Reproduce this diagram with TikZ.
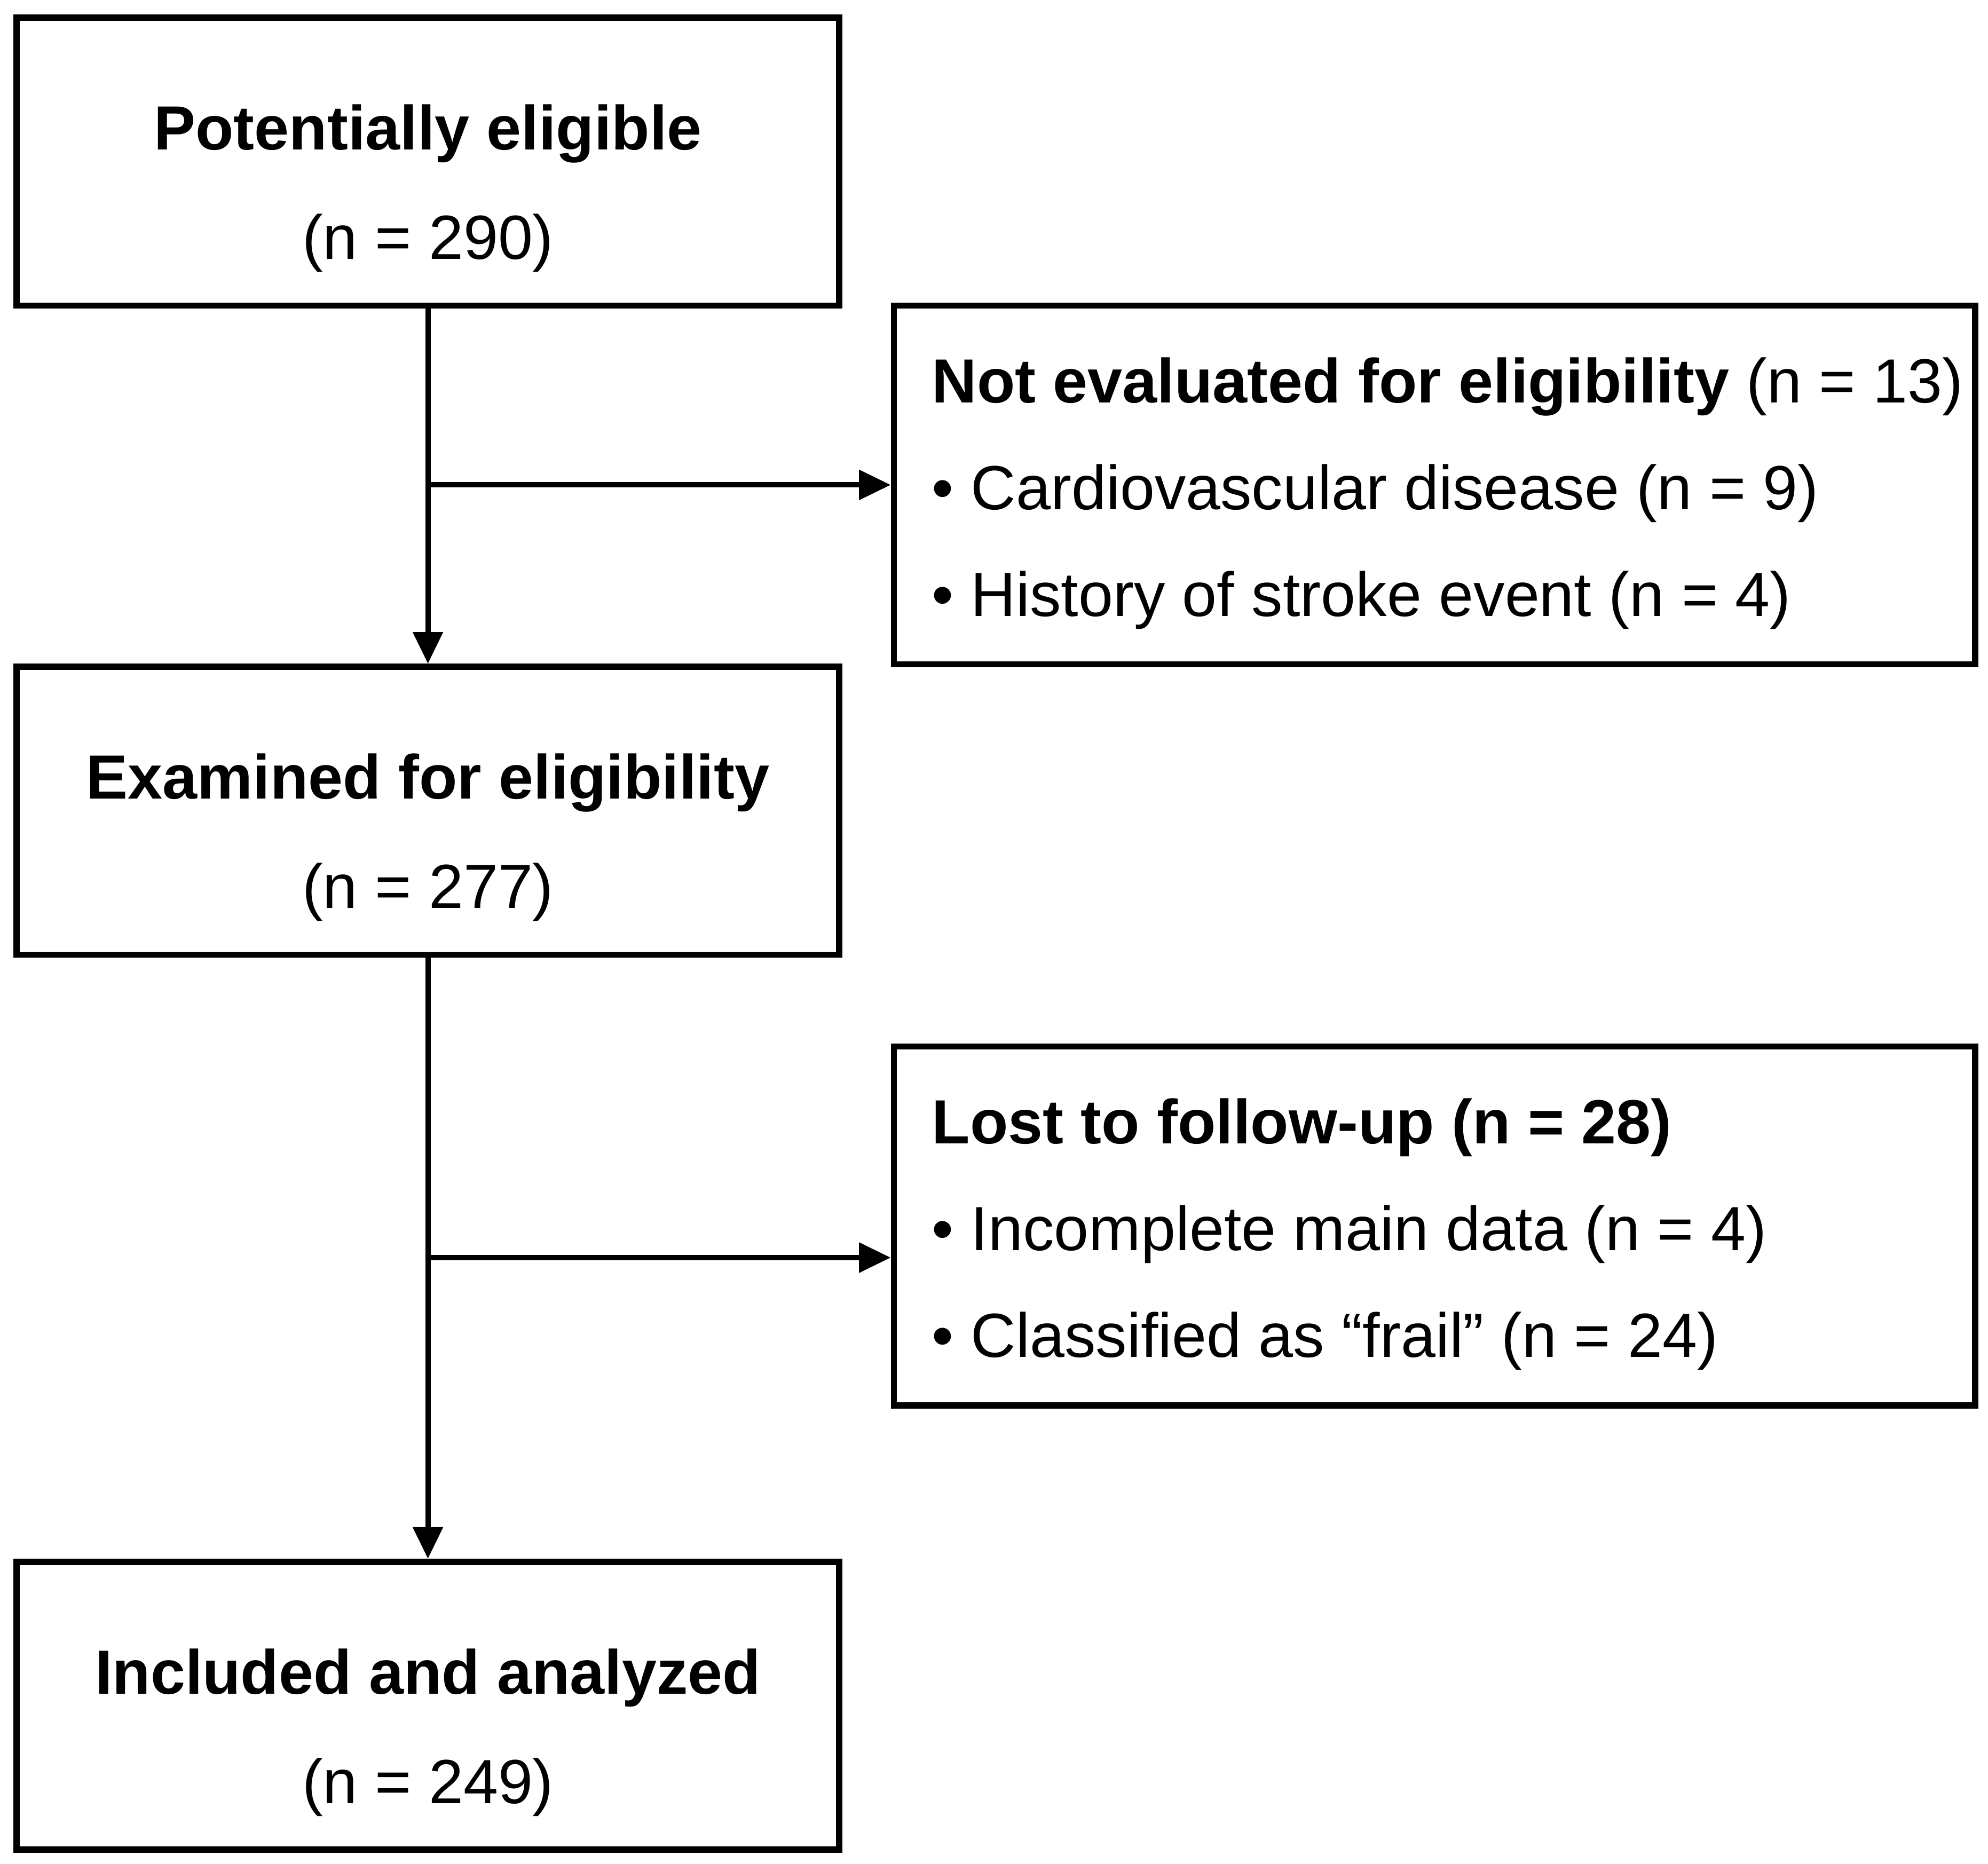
\documentclass[tikz,border=0pt]{standalone}
\usepackage{fontspec}
\setmainfont{Liberation Sans}
\usepackage{xcolor}
\usetikzlibrary{arrows.meta}
\definecolor{vblack}{HTML}{000000}
\tikzset{
	stage/.style = {draw = vblack, line width = 1.4pt, minimum width = 6.49cm, minimum height = 2.27cm, align = center, font = \fontsize{14}{24.6}\selectfont, text height = 1.6cm, text depth = 0.06cm},
	excl/.style = {draw = vblack, line width = 1.4pt, minimum width = 8.53cm, minimum height = 2.83cm, inner xsep = 0.3cm, text width = 7.93cm, align = flush left, font = \fontsize{14}{24}\selectfont, text height = 0.5cm, text depth = 1.8cm},
	flow/.style = {draw = vblack, line width = 1.2pt, -{Triangle[length = 0.25cm, width = 0.23cm]}}
}
\begin{document}
\begin{tikzpicture}
		\useasboundingbox (0,0) rectangle (15.68,-14.70);
		\node[stage] (pe) at (3.375,-1.275) {\textbf{Potentially eligible}\\(n = 290)};
		\node[stage] (ex) at (3.375,-6.395) {\textbf{Examined for eligibility}\\(n = 277)};
		\node[stage] (ia) at (3.375,-13.455) {\textbf{Included and analyzed}\\(n = 249)};
		\node[excl] (ne) at (11.315,-3.825) {\mbox{\textbf{Not evaluated for eligibility} (n = 13)}\\• Cardiovascular disease (n = 9)\\• History of stroke event (n = 4)};
		\node[excl] (lf) at (11.315,-9.67) {\textbf{Lost to follow-up (n = 28)}\\• Incomplete main data (n = 4)\\• Classified as “frail” (n = 24)};
		\coordinate (b1) at (pe.south |- ne.west);
		\coordinate (b2) at (3.38,-9.92);
		\draw[flow] (pe) -- (ex);
		\draw[flow] (ex) -- (ia);
		\draw[flow] (b1) -- (ne.west);
		\draw[flow] (b2) -- (b2 -| lf.west);
	\end{tikzpicture}
\end{document}
